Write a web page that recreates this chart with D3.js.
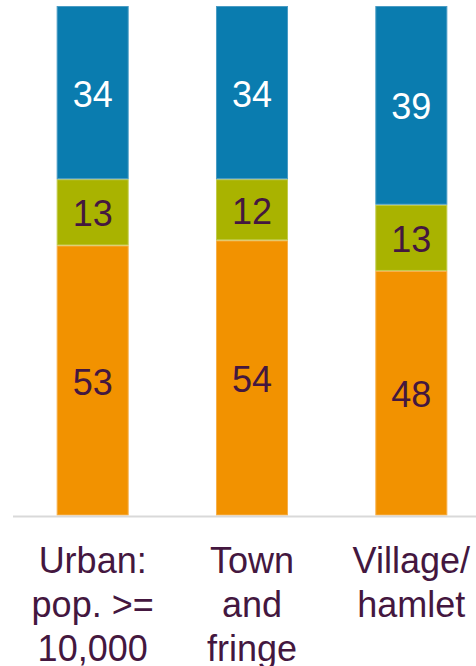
<!DOCTYPE html>
<html>
<head>
<meta charset="utf-8">
<script src="https://cdn.jsdelivr.net/npm/d3@7"></script>
<style>
  body { margin: 0; background: #fff; }
  svg { display: block; font-family: "Liberation Sans", Arial, sans-serif; }
</style>
</head>
<body>
<svg id="chart"></svg>
<script>
const width = 476, height = 666;

// data
const categories = ["Urban", "Town", "Village"];
const categoryLabels = [
  ["Urban:", "pop. >=", "10,000"],
  ["Town", "and", "fringe"],
  ["Village/", "hamlet"]
];
const seriesNames = ["bottom", "middle", "top"];
const bottomValues = [53, 54, 48];
const middleValues = [13, 12, 13];
const topValues = [34, 34, 39];

const colors = ["#f29200", "#a9b300", "#0a7caf"];
const strokes = ["#f6b04c", "#c2cb4c", "#4a9cc4"];
const labelColors = ["#44173f", "#44173f", "#ffffff"];

const rows = categories.map((c, i) => ({
  cat: c,
  bottom: bottomValues[i],
  middle: middleValues[i],
  top: topValues[i]
}));

const stack = d3.stack().keys(seriesNames)(rows);

const x = d3.scaleBand()
  .domain(categories)
  .range([13, 491])
  .paddingInner(0.548)
  .paddingOuter(0.274);

const y = d3.scaleLinear()
  .domain([0, 100])
  .range([515.5, 6]);

const svg = d3.select("#chart")
  .attr("width", width)
  .attr("height", height);

// segments
const layer = svg.selectAll(".layer")
  .data(stack)
  .join("g")
  .attr("class", "layer");

layer.selectAll("rect")
  .data((d, i) => d.map(p => ({ p: p, s: i })))
  .join("rect")
  .attr("x", d => x(d.p.data.cat) + 0.5)
  .attr("width", x.bandwidth() - 1)
  .attr("y", d => y(d.p[1]) + 0.5)
  .attr("height", d => y(d.p[0]) - y(d.p[1]) - 1)
  .attr("fill", d => colors[d.s])
  .attr("stroke", d => strokes[d.s])
  .attr("stroke-width", 1);

// value labels
layer.selectAll("text")
  .data((d, i) => d.map(p => ({ p: p, s: i })))
  .join("text")
  .attr("x", d => x(d.p.data.cat) + x.bandwidth() / 2)
  .attr("y", d => (y(d.p[0]) + y(d.p[1])) / 2)
  .attr("dy", "0.39em")
  .attr("text-anchor", "middle")
  .style("font-size", "36px")
  .attr("fill", d => labelColors[d.s])
  .text(d => d.p[1] - d.p[0]);

// axis line
svg.append("line")
  .attr("x1", 13)
  .attr("x2", width)
  .attr("y1", 516.5)
  .attr("y2", 516.5)
  .attr("stroke", "#d9d9d9")
  .attr("stroke-width", 2);

// category labels
categories.forEach((c, i) => {
  const t = svg.append("text")
    .attr("text-anchor", "middle")
    .attr("fill", "#44173f")
    .style("font-size", "36px");
  categoryLabels[i].forEach((line, j) => {
    t.append("tspan")
      .attr("x", x(c) + x.bandwidth() / 2)
      .attr("y", 573 + j * 44)
      .text(line);
  });
});
</script>
</body>
</html>
